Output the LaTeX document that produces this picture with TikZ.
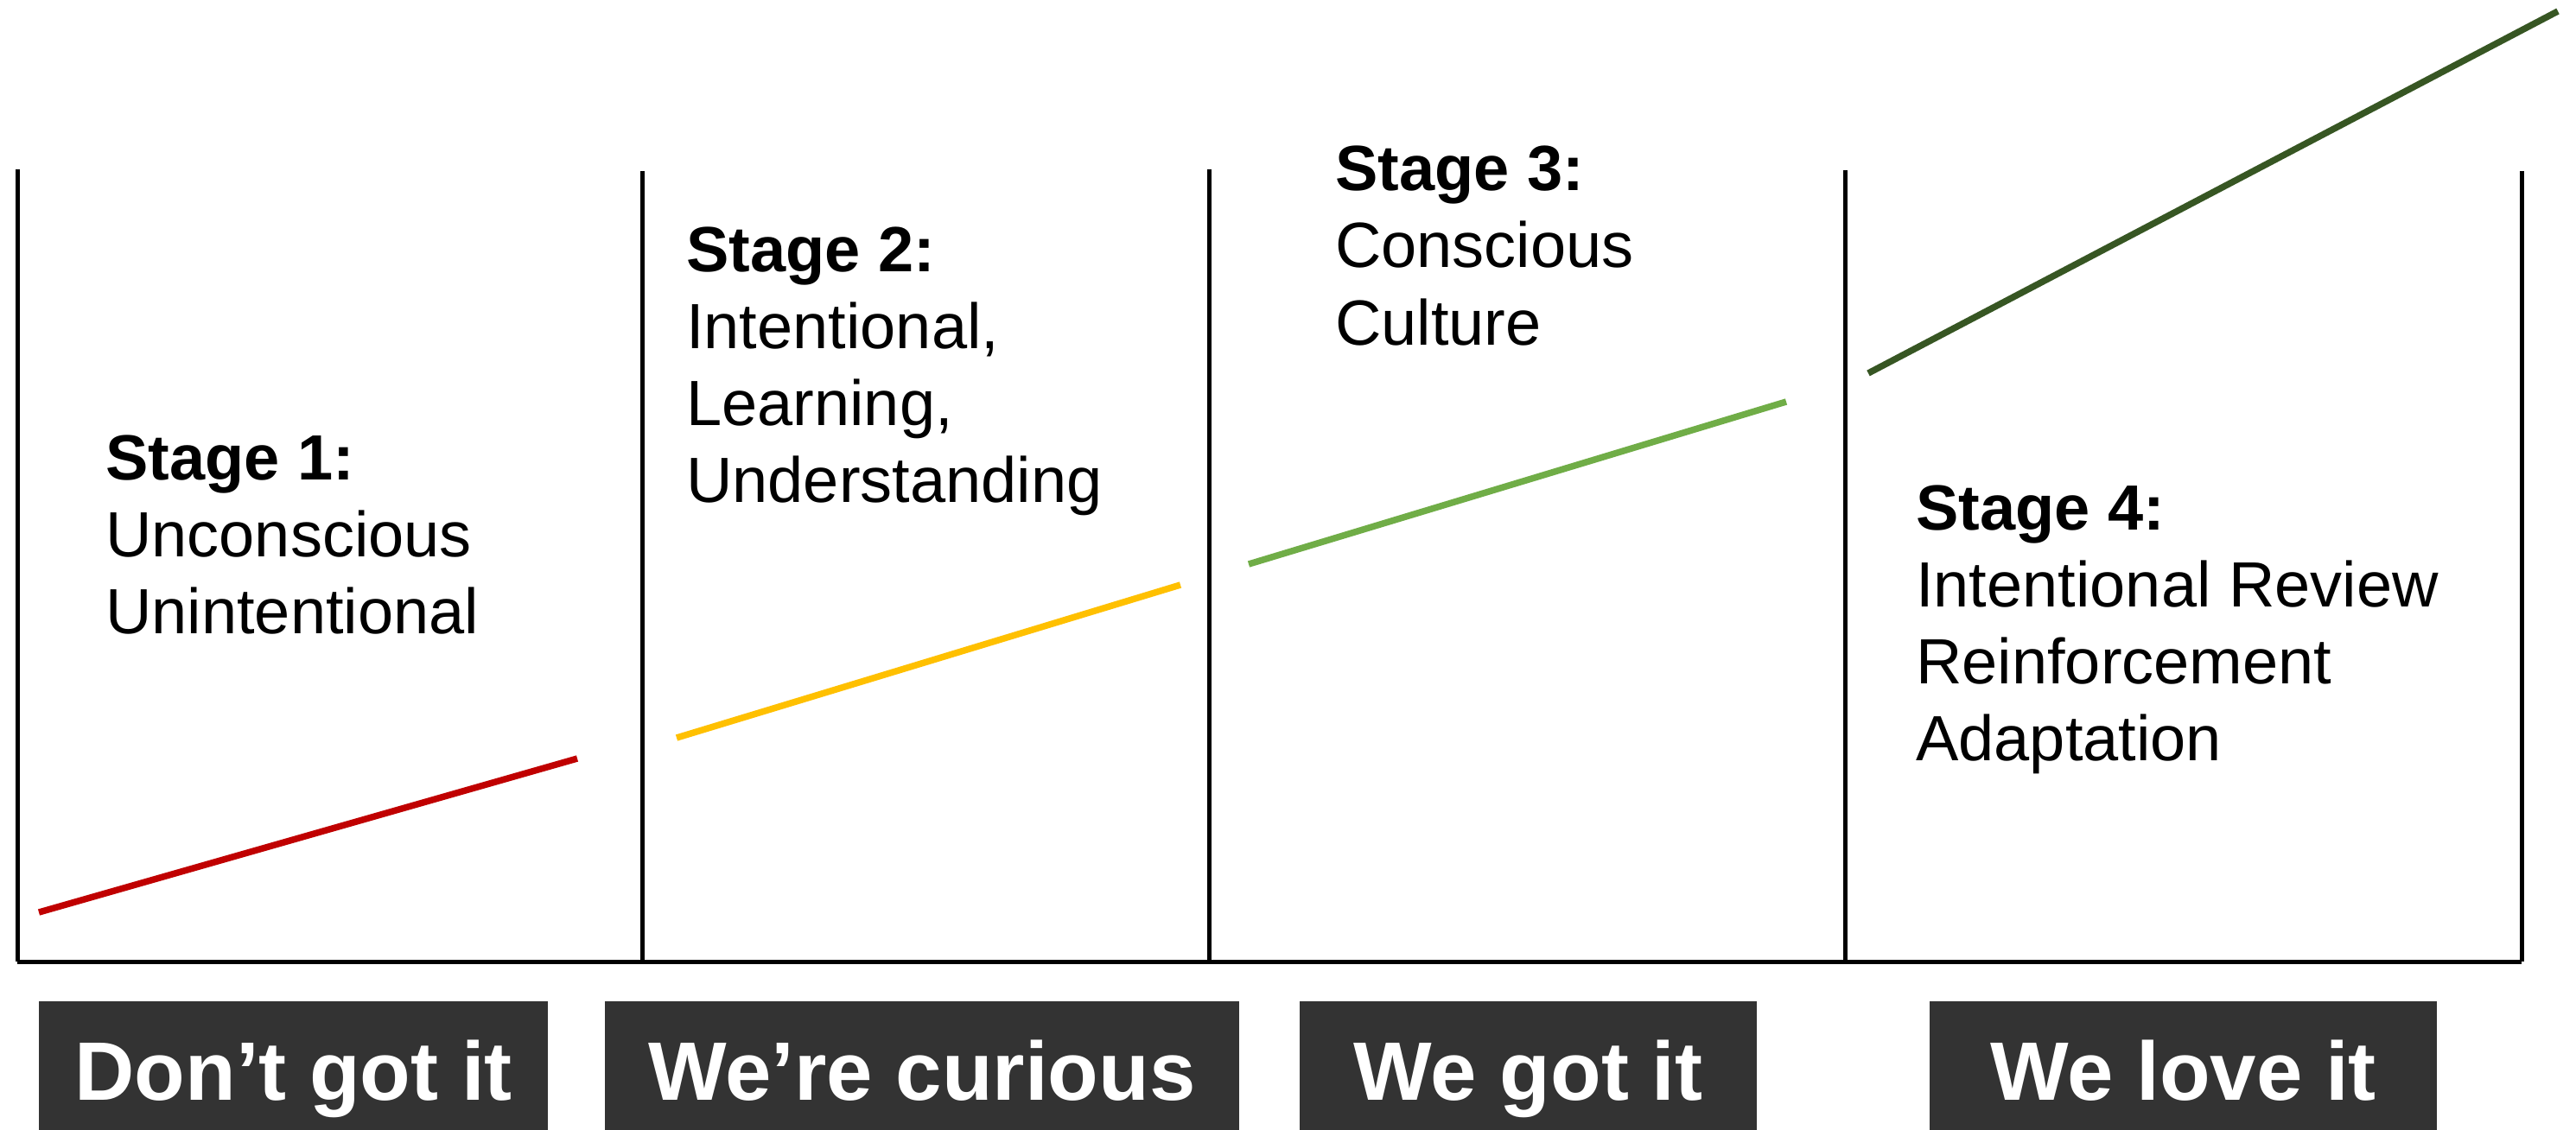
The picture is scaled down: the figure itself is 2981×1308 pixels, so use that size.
\documentclass[tikz,border=0pt]{standalone}
\usepackage{fontspec}
\setmainfont{Liberation Sans}
\definecolor{boxgray}{HTML}{333333}
\definecolor{cred}{HTML}{C00000}
\definecolor{cyellow}{HTML}{FFC000}
\definecolor{cgreen}{HTML}{70AD47}
\definecolor{cdkgreen}{HTML}{375623}
\begin{document}
\begin{tikzpicture}[x=1pt,y=-1pt,
  axisline/.style={line width=5pt, black},
  trend/.style={line width=7.5pt},
  stagetext/.style={anchor=base west, inner sep=0pt, font=\fontsize{74}{89}\selectfont},
  labelbox/.style={anchor=north west, fill=boxgray, text=white, inner sep=0pt,
    minimum height=149pt, text height=80pt, text depth=0pt,
    font=\fontsize{96}{108}\selectfont\bfseries},
]
\useasboundingbox (0,0) rectangle (2981,1308);
% frame coordinates
\coordinate (t0) at (20,196);
\coordinate (b0) at (20,1113);
\coordinate (t1) at (743,198);
\coordinate (b1) at (743,1113);
\coordinate (t2) at (1399,196);
\coordinate (b2) at (1399,1113);
\coordinate (t3) at (2135,197);
\coordinate (b3) at (2135,1113);
\coordinate (t4) at (2918,198);
\coordinate (b4) at (2918,1113);
\draw[axisline] (b0) -- (b4);
\draw[axisline] (t0) -- (b0);
\draw[axisline] (t1) -- (b1);
\draw[axisline] (t2) -- (b2);
\draw[axisline] (t3) -- (b3);
\draw[axisline] (t4) -- (b4);
% trend lines
\coordinate (r1) at (45,1056);
\coordinate (r2) at (668,878);
\coordinate (y1) at (783,854);
\coordinate (y2) at (1366,677);
\coordinate (g1) at (1445,653);
\coordinate (g2) at (2067,465);
\coordinate (d1) at (2162,432);
\coordinate (d2) at (2960,13);
\draw[trend, cred] (r1) -- (r2);
\draw[trend, cyellow] (y1) -- (y2);
\draw[trend, cgreen] (g1) -- (g2);
\draw[trend, cdkgreen] (d1) -- (d2);
% stage texts
\node[stagetext] (s1) at (122,555) {\vtop{\hbox{\bfseries Stage 1:}\hbox{Unconscious}\hbox{Unintentional}}};
\node[stagetext] (s2) at (794,314) {\vtop{\hbox{\bfseries Stage 2:}\hbox{Intentional,}\hbox{Learning,}\hbox{Understanding}}};
\node[stagetext] (s3) at (1545,221) {\vtop{\hbox{\bfseries Stage 3:}\hbox{Conscious}\hbox{Culture}}};
\node[stagetext] (s4) at (2217,613) {\vtop{\hbox{\bfseries Stage 4:}\hbox{Intentional Review}\hbox{Reinforcement}\hbox{Adaptation}}};
% label boxes
\node[labelbox, minimum width=589pt] (l1) at (45,1159) {Don’t got it};
\node[labelbox, minimum width=734pt] (l2) at (700,1159) {We’re curious};
\node[labelbox, minimum width=529pt] (l3) at (1504,1159) {We got it};
\node[labelbox, minimum width=587pt] (l4) at (2233,1159) {We love it};
\end{tikzpicture}
\end{document}
